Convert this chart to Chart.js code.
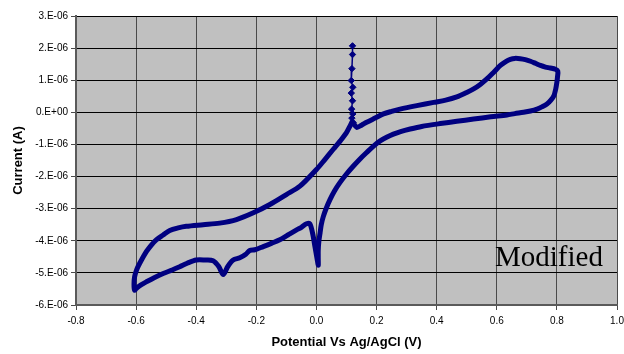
<!DOCTYPE html>
<html>
<head>
<meta charset="utf-8">
<title>Cyclic voltammogram – Modified</title>
<script src="https://cdn.jsdelivr.net/npm/chart.js@4/dist/chart.umd.min.js"></script>
<style>
  html, body { margin: 0; padding: 0; background: #fff; }
  #wrap { width: 624px; height: 354px; }
</style>
</head>
<body>
<div id="wrap"><canvas id="cv"></canvas></div>
<script>
// ─── Data (potential in V, current in µA) ─────────────────────────────────────

// initial transient at the start of the scan (sparse diamonds)
const spikeV = [0.120, 0.120, 0.118, 0.116, 0.121, 0.116, 0.120, 0.117, 0.121, 0.118, 0.122];
const spikeI = [2.07, 1.80, 1.36, 0.99, 0.78, 0.60, 0.36, 0.10, -0.05, -0.18, -0.32];

// the full sweep that follows: anodic branch → 0.8 V → cathodic branch → -0.6 V → back
const loopV = [
  0.122, 0.134, 0.150, 0.167, 0.195, 0.223, 0.250, 0.278, 0.334, 0.390, 0.430, 0.467,
  0.500, 0.523, 0.545, 0.567, 0.590, 0.612, 0.630, 0.645, 0.660, 0.678, 0.695, 0.712,
  0.730, 0.745, 0.762, 0.778, 0.795, 0.803, 0.802, 0.800, 0.796, 0.790, 0.780, 0.767,
  0.750, 0.734, 0.712, 0.689, 0.660, 0.634, 0.580, 0.523, 0.467, 0.412, 0.350, 0.312,
  0.280, 0.256, 0.235, 0.212, 0.190, 0.167, 0.145, 0.123, 0.100, 0.078, 0.060, 0.045,
  0.033, 0.023, 0.016, 0.012, 0.008, 0.006, 0.006, 0.006, 0.002, -0.005, -0.012, -0.022,
  -0.033, -0.050, -0.066, -0.095, -0.122, -0.150, -0.177, -0.205, -0.222, -0.235, -0.255, -0.277,
  -0.295, -0.310, -0.325, -0.344, -0.370, -0.400, -0.430, -0.455, -0.480, -0.510, -0.540, -0.566,
  -0.585, -0.600, -0.605, -0.607, -0.605, -0.598, -0.588, -0.566, -0.550, -0.533, -0.510, -0.488,
  -0.460, -0.433, -0.377, -0.322, -0.266, -0.210, -0.155, -0.100, -0.055, 0.000, 0.028, 0.056,
  0.080, 0.100, 0.112, 0.118
];
const loopI = [
  -0.32, -0.47, -0.40, -0.31, -0.18, -0.05, 0.03, 0.10, 0.21, 0.31, 0.38, 0.48,
  0.62, 0.73, 0.87, 1.04, 1.25, 1.46, 1.58, 1.65, 1.68, 1.67, 1.64, 1.59,
  1.52, 1.46, 1.41, 1.38, 1.34, 1.28, 1.10, 0.94, 0.72, 0.52, 0.38, 0.26,
  0.17, 0.10, 0.04, 0.00, -0.04, -0.08, -0.14, -0.21, -0.28, -0.35, -0.44, -0.52,
  -0.60, -0.68, -0.77, -0.89, -1.05, -1.25, -1.45, -1.67, -1.92, -2.19, -2.45, -2.72,
  -2.98, -3.24, -3.50, -3.76, -4.02, -4.29, -4.55, -4.76, -4.55, -4.18, -3.80, -3.47,
  -3.47, -3.58, -3.66, -3.82, -3.97, -4.08, -4.18, -4.28, -4.30, -4.42, -4.53, -4.60,
  -4.80, -5.05, -4.80, -4.62, -4.60, -4.60, -4.70, -4.81, -4.91, -5.02, -5.15, -5.28,
  -5.38, -5.49, -5.54, -5.35, -5.12, -4.90, -4.70, -4.34, -4.14, -3.97, -3.82, -3.68,
  -3.60, -3.55, -3.50, -3.45, -3.34, -3.13, -2.87, -2.56, -2.30, -1.78, -1.47, -1.15,
  -0.88, -0.63, -0.42, -0.30
];

const xTicks = [-0.8, -0.6, -0.4, -0.2, 0.0, 0.2, 0.4, 0.6, 0.8, 1.0];
const yTicks = [-6, -5, -4, -3, -2, -1, 0, 1, 2, 3]; // µA

const NAVY = '#000080';

// ─── Helpers ──────────────────────────────────────────────────────────────────

const toPoints = (vs, is) => vs.map((v, k) => ({ x: v, y: is[k] * 1e-6 }));

function sciLabel(v) {
  const n = Math.round(v * 1e6);
  return n === 0 ? '0.E+00' : `${n}.E-06`;
}

// grey plot background like the spreadsheet chart
const plotBackground = {
  id: 'plotBackground',
  beforeDraw(chart) {
    const { ctx, chartArea: a } = chart;
    ctx.save();
    ctx.fillStyle = '#c0c0c0';
    ctx.fillRect(a.left, a.top, a.right - a.left, a.bottom - a.top);
    ctx.restore();
  }
};

// "Modified" annotation in the lower right corner
const cornerLabel = {
  id: 'cornerLabel',
  afterDraw(chart) {
    const { ctx } = chart;
    ctx.save();
    ctx.font = '29px "Liberation Serif", "DejaVu Serif", serif';
    ctx.fillStyle = '#000';
    ctx.textBaseline = 'alphabetic';
    ctx.fillText('Modified', 495, 266);
    ctx.restore();
  }
};

// ─── Chart ────────────────────────────────────────────────────────────────────

Chart.defaults.font.family = '"Liberation Sans", Arial, sans-serif';
Chart.defaults.color = '#000';

new Chart(document.getElementById('cv'), {
  type: 'scatter',
  data: {
    datasets: [
      {
        label: 'sweep',
        data: toPoints(loopV, loopI),
        showLine: true,
        borderColor: NAVY,
        borderWidth: 5,
        pointRadius: 0,
        tension: 0.3,
        borderCapStyle: 'round',
        borderJoinStyle: 'round',
      },
      {
        label: 'transient',
        data: toPoints(spikeV, spikeI),
        showLine: true,
        borderColor: NAVY,
        borderWidth: 1.5,
        backgroundColor: NAVY,
        pointStyle: 'rectRot',
        pointRadius: 3.2,
        pointBorderWidth: 1,
      }
    ]
  },
  options: {
    responsive: true,
    maintainAspectRatio: false,
    animation: false,
    layout: { padding: { top: 16, right: 0, left: 0, bottom: 0 } },
    plugins: { legend: { display: false }, tooltip: { enabled: false } },
    scales: {
      x: {
        type: 'linear',
        min: -0.8, max: 1.0,
        afterBuildTicks: s => { s.ticks = xTicks.map(v => ({ value: v })); },
        afterFit: s => { s.height = 49; s.paddingRight = 7; },
        ticks: { font: { size: 10 }, padding: 5, callback: v => v.toFixed(1) },
        grid: { color: '#4a4a4a', lineWidth: 1, tickLength: 5, tickColor: '#4a4a4a' },
        border: { color: '#5a5a5a', width: 2 },
        title: {
          display: true,
          text: 'Potential Vs Ag/AgCl (V)',
          font: { size: 13, weight: 'bold' },
          padding: { top: 1, bottom: 4 }
        }
      },
      y: {
        type: 'linear',
        min: -6e-6, max: 3e-6,
        afterBuildTicks: s => { s.ticks = yTicks.map(v => ({ value: v * 1e-6 })); },
        afterFit: s => { s.width = 76; },
        ticks: { font: { size: 10 }, padding: 3, callback: sciLabel },
        grid: { color: '#000', lineWidth: 1, tickLength: 5, tickColor: '#4a4a4a' },
        border: { color: '#5a5a5a', width: 2 },
        title: {
          display: true,
          text: 'Current (A)',
          font: { size: 13, weight: 'bold' },
          padding: { top: 11, bottom: 4 }
        }
      }
    }
  },
  plugins: [plotBackground, cornerLabel]
});
</script>
</body>
</html>
